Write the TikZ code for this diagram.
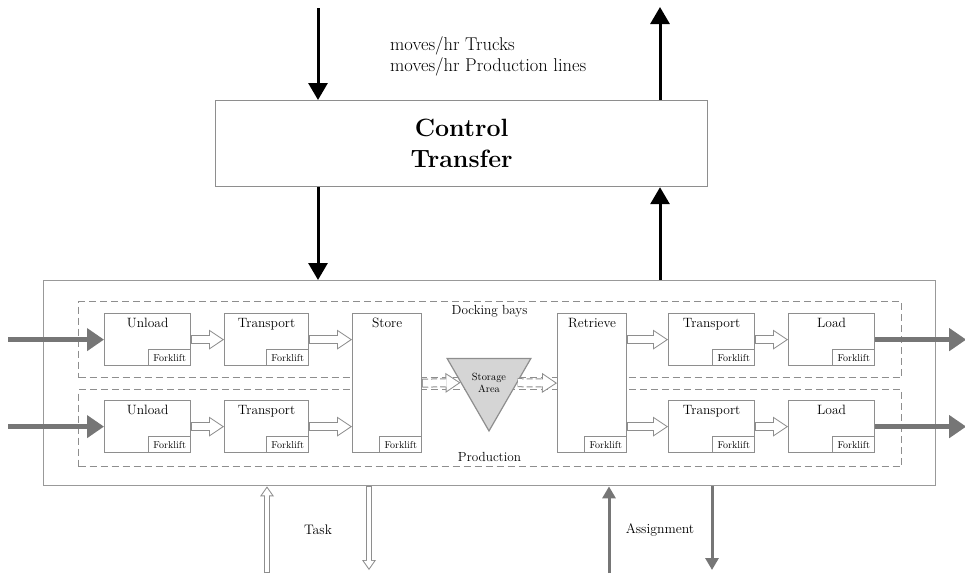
\documentclass[tikz,border=0pt]{standalone}
\usepackage{fontspec}
\usetikzlibrary{arrows.meta,shapes.geometric}
\definecolor{boxgray}{HTML}{8E8E8E}
\definecolor{arrgray}{HTML}{767676}
\definecolor{trifill}{HTML}{D5D5D5}
\begin{document}
\begin{tikzpicture}[x=1pt,y=-1pt,
  proc/.style={draw=boxgray, line width=1.2pt, fill=white, anchor=north west, inner sep=0pt},
  ttl/.style={anchor=north, inner sep=0pt, yshift=-5pt, font=\fontsize{13.5}{16}\selectfont},
  fork/.style={draw=boxgray, line width=1pt, fill=white, anchor=south east, minimum width=42pt, minimum height=16pt, inner sep=0pt, font=\fontsize{10}{11}\selectfont},
  dbox/.style={draw=boxgray, line width=1pt, dash pattern=on 7pt off 4pt, anchor=north west, inner sep=0pt},
  mbox/.style={draw=boxgray!90, line width=1.4pt, anchor=north west, inner sep=0pt},
  lab/.style={inner sep=0pt, font=\fontsize{13.2}{16}\selectfont},
  hol/.style={draw=boxgray, line width=9pt, -{Triangle[length=15pt,width=20pt,line width=0pt]},
    postaction={draw=white, solid, line width=7pt, shorten >=1.8pt, shorten <=0.6pt, -{Triangle[length=12.2pt,width=16.3pt,line width=0pt]}}},
  holsm/.style={draw=boxgray, line width=6.5pt, -{Triangle[length=10pt,width=14pt,line width=0pt]},
    postaction={draw=white, line width=4.5pt, shorten >=1.75pt, shorten <=0.7pt, -{Triangle[length=7.3pt,width=10.2pt,line width=0pt]}}},
  thk/.style={draw=arrgray, line width=5.5pt, -{Triangle[length=17pt,width=22pt]}},
  gmed/.style={draw=arrgray, line width=3pt, -{Triangle[length=12pt,width=13pt]}},
  blk/.style={draw=black, line width=3pt, -{Triangle[length=17pt,width=19pt]}},
  tri/.style={regular polygon, regular polygon sides=3, shape border rotate=180, draw=boxgray, line width=1.2pt, fill=trifill, minimum size=94.7pt, inner sep=0pt, align=center, font=\fontsize{10.4}{12}\selectfont}
]
\useasboundingbox (0,0) rectangle (965,573);

% frames
\node[mbox, minimum width=892pt, minimum height=205pt] (mb) at (43,280) {};
\node[dbox, minimum width=823pt, minimum height=76pt] (dk) at (78,301) {};
\node[dbox, minimum width=823pt, minimum height=77pt] (pr) at (78,389) {};
\node[lab] (dkl) at (489.5,311) {Docking bays};
\node[lab] (prl) at (489.5,457) {Production};

% control box
\node[proc, minimum width=492pt, minimum height=86pt, align=center, font=\bfseries\fontsize{25}{31}\selectfont] (ct) at (215,100) {Control\\Transfer};
\node[anchor=west, align=left, inner sep=0pt, font=\fontsize{18.5}{21.5}\selectfont] (mv) at (390,56.5) {moves/hr Trucks\\moves/hr Production lines};

% process boxes
\node[proc, minimum width=86pt, minimum height=52pt] (u1) at (104,313) {};
\node[proc, minimum width=84pt, minimum height=52pt] (t1) at (224,313) {};
\node[proc, minimum width=69pt, minimum height=139pt] (st) at (352,313) {};
\node[proc, minimum width=69pt, minimum height=139pt] (re) at (557,313) {};
\node[proc, minimum width=86pt, minimum height=52pt] (t3) at (668,313) {};
\node[proc, minimum width=86pt, minimum height=52pt] (l1) at (788,313) {};
\node[proc, minimum width=86pt, minimum height=52pt] (u2) at (104,400) {};
\node[proc, minimum width=84pt, minimum height=52pt] (t2) at (224,400) {};
\node[proc, minimum width=86pt, minimum height=52pt] (t4) at (668,400) {};
\node[proc, minimum width=86pt, minimum height=52pt] (l2) at (788,400) {};

\node[ttl] (u1t) at (u1.north) {Unload};
\node[ttl] (t1t) at (t1.north) {Transport};
\node[ttl] (stt) at (st.north) {Store};
\node[ttl] (ret) at (re.north) {Retrieve};
\node[ttl] (t3t) at (t3.north) {Transport};
\node[ttl] (l1t) at (l1.north) {Load};
\node[ttl] (u2t) at (u2.north) {Unload};
\node[ttl] (t2t) at (t2.north) {Transport};
\node[ttl] (t4t) at (t4.north) {Transport};
\node[ttl] (l2t) at (l2.north) {Load};

\node[fork] (u1f) at (u1.south east) {Forklift};
\node[fork] (t1f) at (t1.south east) {Forklift};
\node[fork] (stf) at (st.south east) {Forklift};
\node[fork] (ref) at (re.south east) {Forklift};
\node[fork] (t3f) at (t3.south east) {Forklift};
\node[fork] (l1f) at (l1.south east) {Forklift};
\node[fork] (u2f) at (u2.south east) {Forklift};
\node[fork] (t2f) at (t2.south east) {Forklift};
\node[fork] (t4f) at (t4.south east) {Forklift};
\node[fork] (l2f) at (l2.south east) {Forklift};

% storage area
\node[tri] (sa) at (489,382.7) {Storage\\Area};

% hollow flow arrows
\draw[hol] (u1.east) -- (t1.west);
\draw[hol] (t1.east) -- (t1.east -| st.west);
\draw[hol] (u2.east) -- (t2.west);
\draw[hol] (t2.east) -- (t2.east -| st.west);
\draw[hol] (re.east |- t3.west) -- (t3.west);
\draw[hol] (t3.east) -- (l1.west);
\draw[hol] (re.east |- t4.west) -- (t4.west);
\draw[hol] (t4.east) -- (l2.west);
\draw[hol, dash pattern=on 6pt off 3pt] (st.east) -- (sa.west);
\draw[hol, dash pattern=on 6pt off 3pt] (sa.east) -- (re.west);

% thick inputs / outputs
\coordinate (inA) at ([xshift=-96pt]u1.west);
\coordinate (inB) at ([xshift=-96pt]u2.west);
\coordinate (outA) at ([xshift=91pt]l1.east);
\coordinate (outB) at ([xshift=91pt]l2.east);
\draw[thk] (inA) -- (u1.west);
\draw[thk] (inB) -- (u2.west);
\draw[thk] (l1.east) -- (outA);
\draw[thk] (l2.east) -- (outB);

% control arrows
\coordinate (topL) at (318,8);
\coordinate (topR) at (660,7);
\draw[blk] (topL) -- (topL |- ct.north);
\draw[blk] (topR |- ct.north) -- (topR);
\draw[blk] (topL |- ct.south) -- (topL |- mb.north);
\draw[blk] (topR |- mb.north) -- (topR |- ct.south);

% bottom arrows
\coordinate (b1) at (267,573);
\coordinate (b2) at (369,570);
\coordinate (b3) at (609,573);
\coordinate (b4) at (712,570);
\draw[holsm] (b1) -- (b1 |- mb.south);
\draw[holsm] (b2 |- mb.south) -- (b2);
\draw[gmed] (b3) -- (b3 |- mb.south);
\draw[gmed] (b4 |- mb.south) -- (b4);
\node[lab, font=\fontsize{13.8}{16}\selectfont] (task) at (318,530) {Task};
\node[lab, font=\fontsize{13.8}{16}\selectfont] (asg) at (660,530) {Assignment};
\end{tikzpicture}
\end{document}
